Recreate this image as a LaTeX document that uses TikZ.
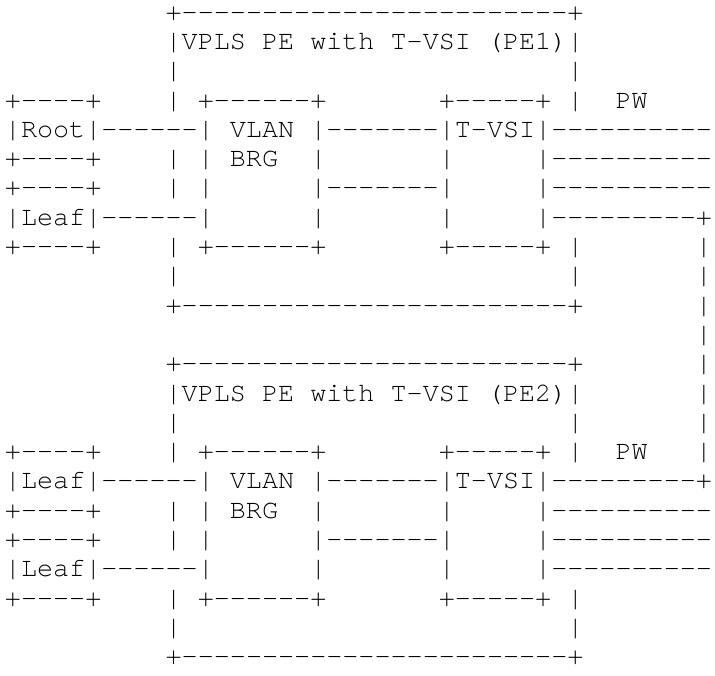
\documentclass[tikz,border=0pt]{standalone}
\usepackage{fontspec}
\setmonofont{texgyrecursor-regular.otf}
\newcommand\asc{\ttfamily\fontsize{26.78pt}{29.3pt}\selectfont}
\tikzset{
  asciirow/.style={anchor=base west, inner sep=0pt, outer sep=0pt, font=\asc, text=black,
    text height=17pt, text depth=5pt}
}
\begin{document}
\begin{tikzpicture}[x=16.07pt, y=-29.3pt]
\useasboundingbox[fill=white] (0pt,0pt) rectangle (715pt,-675pt);
\begin{scope}[shift={(4.97pt,-20.1pt)}]
% PE1
\node[asciirow] (r1)  at (10,0)  {+------------------------+};
\node[asciirow] (r2)  at (10,1)  {|VPLS~PE~with~T-VSI~(PE1)|};
\node[asciirow] (r3)  at (10,2)  {|~~~~~~~~~~~~~~~~~~~~~~~~|};
\node[asciirow] (r4)  at (0,3)   {+----+~~~~|~+------+~~~~~~~+-----+~|~~PW};
\node[asciirow] (r5)  at (0,4)   {|Root|------|~VLAN~|-------|T-VSI|----------};
\node[asciirow] (r6)  at (0,5)   {+----+~~~~|~|~BRG~~|~~~~~~~|~~~~~|----------};
\node[asciirow] (r7)  at (0,6)   {+----+~~~~|~|~~~~~~|-------|~~~~~|----------};
\node[asciirow] (r8)  at (0,7)   {|Leaf|------|~~~~~~|~~~~~~~|~~~~~|---------+};
\node[asciirow] (r9)  at (0,8)   {+----+~~~~|~+------+~~~~~~~+-----+~|~~~~~~~|};
\node[asciirow] (r10) at (10,9)  {|~~~~~~~~~~~~~~~~~~~~~~~~|~~~~~~~|};
\node[asciirow] (r11) at (10,10) {+------------------------+~~~~~~~|};
\node[asciirow] (r12) at (43,11) {|};
% PE2
\node[asciirow] (r13) at (10,12) {+------------------------+~~~~~~~|};
\node[asciirow] (r14) at (10,13) {|VPLS~PE~with~T-VSI~(PE2)|~~~~~~~|};
\node[asciirow] (r15) at (10,14) {|~~~~~~~~~~~~~~~~~~~~~~~~|~~~~~~~|};
\node[asciirow] (r16) at (0,15)  {+----+~~~~|~+------+~~~~~~~+-----+~|~~PW~~~|};
\node[asciirow] (r17) at (0,16)  {|Leaf|------|~VLAN~|-------|T-VSI|---------+};
\node[asciirow] (r18) at (0,17)  {+----+~~~~|~|~BRG~~|~~~~~~~|~~~~~|----------};
\node[asciirow] (r19) at (0,18)  {+----+~~~~|~|~~~~~~|-------|~~~~~|----------};
\node[asciirow] (r20) at (0,19)  {|Leaf|------|~~~~~~|~~~~~~~|~~~~~|----------};
\node[asciirow] (r21) at (0,20)  {+----+~~~~|~+------+~~~~~~~+-----+~|};
\node[asciirow] (r22) at (10,21) {|~~~~~~~~~~~~~~~~~~~~~~~~|};
\node[asciirow] (r23) at (10,22) {+------------------------+};
\end{scope}
\end{tikzpicture}
\end{document}
